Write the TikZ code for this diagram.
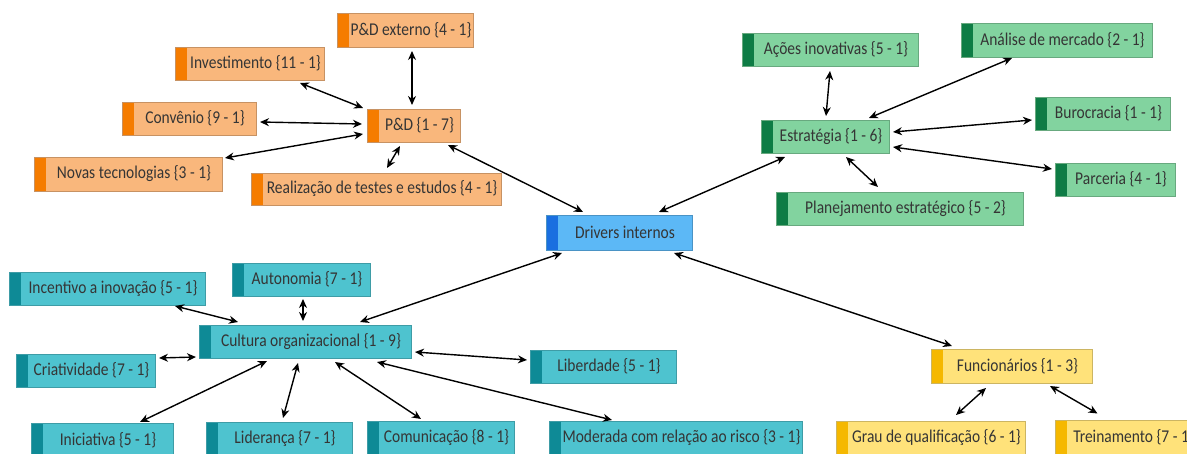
\documentclass[tikz,border=0pt]{standalone}
\usepackage{fontspec}
\setmainfont{Carlito}[FakeStretch=0.86]
\usetikzlibrary{arrows.meta}
\definecolor{orF}{HTML}{F9B77C}
\definecolor{orS}{HTML}{F57C00}
\definecolor{grF}{HTML}{82D39F}
\definecolor{grS}{HTML}{0E7C45}
\definecolor{cyF}{HTML}{4EC3CF}
\definecolor{cyS}{HTML}{0E8A96}
\definecolor{blF}{HTML}{5CB8F6}
\definecolor{blS}{HTML}{1A6FE0}
\definecolor{yeF}{HTML}{FFE27A}
\definecolor{yeS}{HTML}{F5B800}
\definecolor{txt}{HTML}{353535}
\tikzset{
  card/.style n args={2}{fill=#1, draw=#1!80!black, line width=0.6pt, text=txt,
    font=\fontsize{18}{20}\selectfont, inner xsep=0pt, inner ysep=0pt,
    path picture={\fill[#2] (path picture bounding box.south west) rectangle ([xshift=12pt]path picture bounding box.north west);}},
  orange/.style={card={orF}{orS}},
  green/.style={card={grF}{grS}},
  cyan/.style={card={cyF}{cyS}},
  blue/.style={card={blF}{blS}},
  yellow/.style={card={yeF}{yeS}},
  conn/.style={{Stealth[length=9pt,width=8pt]}-{Stealth[length=9pt,width=8pt]}, line width=1.4pt, black}
}
\newcommand\bx[7]{%
  \pgfmathsetmacro\bw{#4-#2}\pgfmathsetmacro\bh{#5-#3}\pgfmathsetmacro\tw{#4-#2-12}%
  \pgfmathsetmacro\cx{(#2+#4)/2}\pgfmathsetmacro\cy{(#3+#5)/2}%
  \node[#6, minimum width=\bw pt, minimum height=\bh pt, anchor=center] (#1) at (\cx,\cy)
    {\hspace*{12pt}\makebox[\tw pt][c]{#7}};}
\newcommand\cn[6]{\draw[conn] ([shift={(#2,#3)}]#1.center) -- ([shift={(#5,#6)}]#4.center);}
\begin{document}
\begin{tikzpicture}[x=1pt,y=-1pt]
\fill[white] (0,0) rectangle (1187,454);
\useasboundingbox (0,0) rectangle (1187,454);
\clip (0,0) rectangle (1187,454);
% orange
\bx{ext}{337}{13}{473}{47}{orange}{P\&D externo \{4 - 1\}}
\bx{inv}{175}{47}{324}{80}{orange}{Investimento \{11 - 1\}}
\bx{conv}{122}{102}{256}{135}{orange}{Convênio \{9 - 1\}}
\bx{pd}{367}{109}{460}{142}{orange}{P\&D \{1 - 7\}}
\bx{novas}{34}{157}{222}{191}{orange}{Novas tecnologias \{3 - 1\}}
\bx{real}{251}{173}{501}{205}{orange}{Realização de testes e estudos \{4 - 1\}}
% blue
\bx{drv}{546}{215}{692}{250}{blue}{Drivers internos}
% green
\bx{acoes}{742}{33}{918}{66}{green}{Ações inovativas \{5 - 1\}}
\bx{anal}{961}{23}{1152}{57}{green}{Análise de mercado \{2 - 1\}}
\bx{estr}{761}{120}{889}{153}{green}{Estratégia \{1 - 6\}}
\bx{buro}{1035}{97}{1170}{130}{green}{Burocracia \{1 - 1\}}
\bx{parc}{1055}{163}{1175}{196}{green}{Parceria \{4 - 1\}}
\bx{plan}{776}{192}{1023}{225}{green}{Planejamento estratégico \{5 - 2\}}
% cyan
\bx{inc}{9}{272}{205}{305}{cyan}{Incentivo a inovação \{5 - 1\}}
\bx{aut}{232}{263}{370}{296}{cyan}{Autonomia \{7 - 1\}}
\bx{cult}{199}{325}{411}{358}{cyan}{Cultura organizacional \{1 - 9\}}
\bx{cria}{16}{354}{155}{387}{cyan}{Criatividade \{7 - 1\}}
\bx{lib}{530}{350}{676}{383}{cyan}{Liberdade \{5 - 1\}}
\bx{ini}{31}{423}{173}{457}{cyan}{Iniciativa \{5 - 1\}}
\bx{lid}{206}{422}{352}{456}{cyan}{Liderança \{7 - 1\}}
\bx{com}{367}{421}{514}{455}{cyan}{Comunicação \{8 - 1\}}
\bx{mod}{549}{421}{802}{455}{cyan}{Moderada com relação ao risco \{3 - 1\}}
% yellow
\bx{func}{931}{349}{1092}{383}{yellow}{Funcionários \{1 - 3\}}
\bx{grau}{836}{421}{1025}{455}{yellow}{Grau de qualificação \{6 - 1\}}
\bx{trei}{1055}{420}{1200}{455}{yellow}{Treinamento \{7 - 1\}}
% connectors
\cn{ext}{7}{21}{pd}{-1.5}{-20.5}
\cn{inv}{50.5}{19.5}{pd}{-50.5}{-17.5}
\cn{conv}{71}{3.5}{pd}{-51.5}{-1.5}
\cn{novas}{97}{-16}{pd}{-50.5}{8.5}
\cn{real}{11}{-21}{pd}{-13.5}{20.5}
\cn{pd}{34.5}{19.5}{drv}{-36}{-20.5}
\cn{drv}{40}{-20.5}{estr}{-40}{20.5}
\cn{acoes}{0}{21.5}{estr}{1}{-20.5}
\cn{anal}{-44.5}{18}{estr}{44}{-18.5}
\cn{buro}{-70.5}{6.5}{estr}{68}{-4.5}
\cn{parc}{-63}{-10.5}{estr}{68}{10.5}
\cn{plan}{-21.5}{-21.5}{estr}{21}{20.5}
\cn{drv}{-57}{20.5}{cult}{55}{-19.5}
\cn{drv}{55}{20.5}{func}{-59.5}{-20}
\cn{inc}{68}{17.5}{cult}{-67}{-19.5}
\cn{aut}{2}{19.5}{cult}{-2}{-20.5}
\cn{cria}{73.5}{-12.5}{cult}{-109}{15.5}
\cn{ini}{38}{-18}{cult}{-38}{19.5}
\cn{lid}{4}{-21}{cult}{-7}{21.5}
\cn{com}{-19.5}{-19}{cult}{30}{20.5}
\cn{lib}{-76}{-6.5}{cult}{110}{10.5}
\cn{mod}{-63.5}{-18}{cult}{72}{20.5}
\cn{grau}{25.5}{-23}{func}{-25.5}{22}
\cn{trei}{-30}{-24}{func}{38.5}{20}
\end{tikzpicture}
\end{document}
